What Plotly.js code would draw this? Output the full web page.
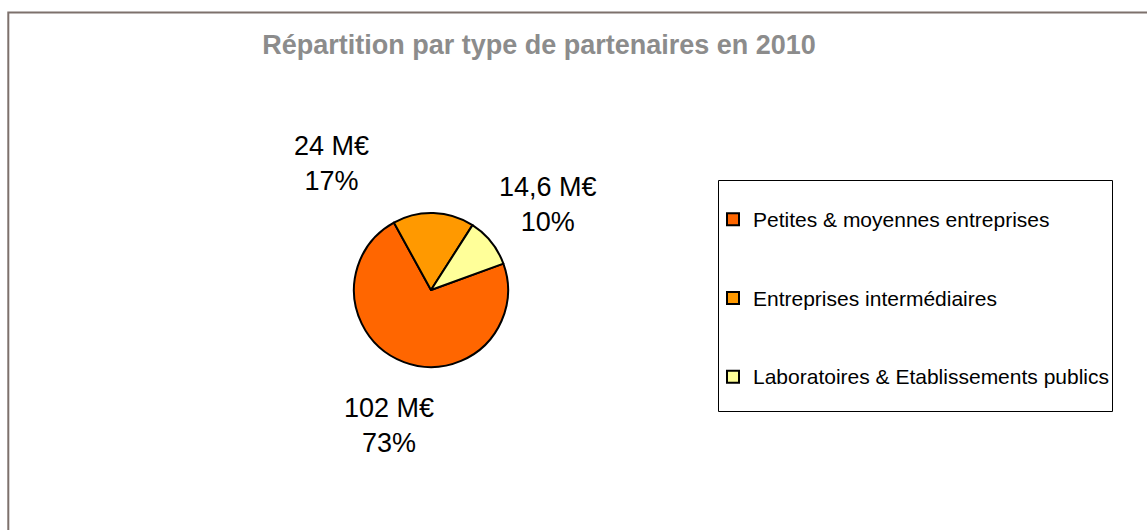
<!DOCTYPE html>
<html>
<head>
<meta charset="utf-8">
<script src="https://cdn.plot.ly/plotly-3.0.1.min.js"></script>
<style>html,body{margin:0;padding:0;background:#fff;}#chart{width:1147px;height:530px;}</style>
</head>
<body>
<div id="chart"></div>
<script>
// Data
const categories = ["Petites & moyennes entreprises", "Entreprises intermédiaires", "Laboratoires & Etablissements publics"];
const amountsMEUR = [102, 24, 14.6];
const amountLabels = ["102 M€", "24 M€", "14,6 M€"];
const percentLabels = ["73%", "17%", "10%"];
const sliceColors = ["#FF6600", "#FF9900", "#FFFF99"];

const W = 1147, H = 530;
const px = x => x / W;
const py = y => 1 - y / H;
const FONT = "Liberation Sans, Arial, sans-serif";

// Legend labels padded with blank lines to reproduce the spacing of the original legend
const legendLabels = categories.map(c =>
  "\u00a0<br><span style='font-size:21px'>" + c + "</span><br>\u00a0");

const trace = {
  type: "pie",
  labels: legendLabels,
  values: amountsMEUR,
  sort: false,
  direction: "clockwise",
  rotation: 70,
  textinfo: "none",
  hoverinfo: "none",
  marker: { colors: sliceColors, line: { color: "#000000", width: 2 } },
  domain: { x: [px(354), px(508)], y: [py(367), py(213)] }
};

// label block positions (centres, in pixels)
const labelPos = [[389, 425], [331, 164], [548, 204]];
const annotations = categories.map((c, i) => ({
  xref: "paper", yref: "paper",
  x: px(labelPos[i][0]), y: py(labelPos[i][1]),
  xanchor: "center", yanchor: "middle",
  text: amountLabels[i] + "<br>" + percentLabels[i],
  showarrow: false, align: "center",
  font: { family: FONT, size: 27, color: "#000000" }
}));

const layout = {
  width: W, height: H,
  margin: { l: 0, r: 0, t: 0, b: 0 },
  paper_bgcolor: "#ffffff",
  plot_bgcolor: "#ffffff",
  font: { family: FONT, color: "#000000" },
  title: {
    text: "<b>Répartition par type de partenaires en 2010</b>",
    font: { family: FONT, size: 27, color: "#8c8c8c" },
    xref: "paper", yref: "container",
    x: px(539), xanchor: "center",
    y: 1 - 45 / H, yanchor: "middle"
  },
  showlegend: true,
  legend: {
    x: px(713), y: py(175), xanchor: "left", yanchor: "top",
    bgcolor: "rgba(0,0,0,0)", borderwidth: 0,
    font: { family: FONT, size: 19.4, color: "#000000" },
    valign: "middle", traceorder: "normal"
  },
  annotations: annotations,
  shapes: [
    {
      type: "rect", xref: "paper", yref: "paper",
      x0: px(8.3), x1: 1.2, y0: -0.2, y1: py(12.5),
      line: { color: "#7d716c", width: 2 }, fillcolor: "rgba(0,0,0,0)", layer: "above"
    },
    {
      type: "rect", xref: "paper", yref: "paper",
      x0: px(718.5), x1: px(1112.5), y0: py(411.5), y1: py(180.5),
      line: { color: "#000000", width: 1 }, fillcolor: "rgba(0,0,0,0)", layer: "below"
    }
  ]
};

Plotly.newPlot("chart", [trace], layout, { displayModeBar: false, staticPlot: true });
</script>
</body>
</html>
